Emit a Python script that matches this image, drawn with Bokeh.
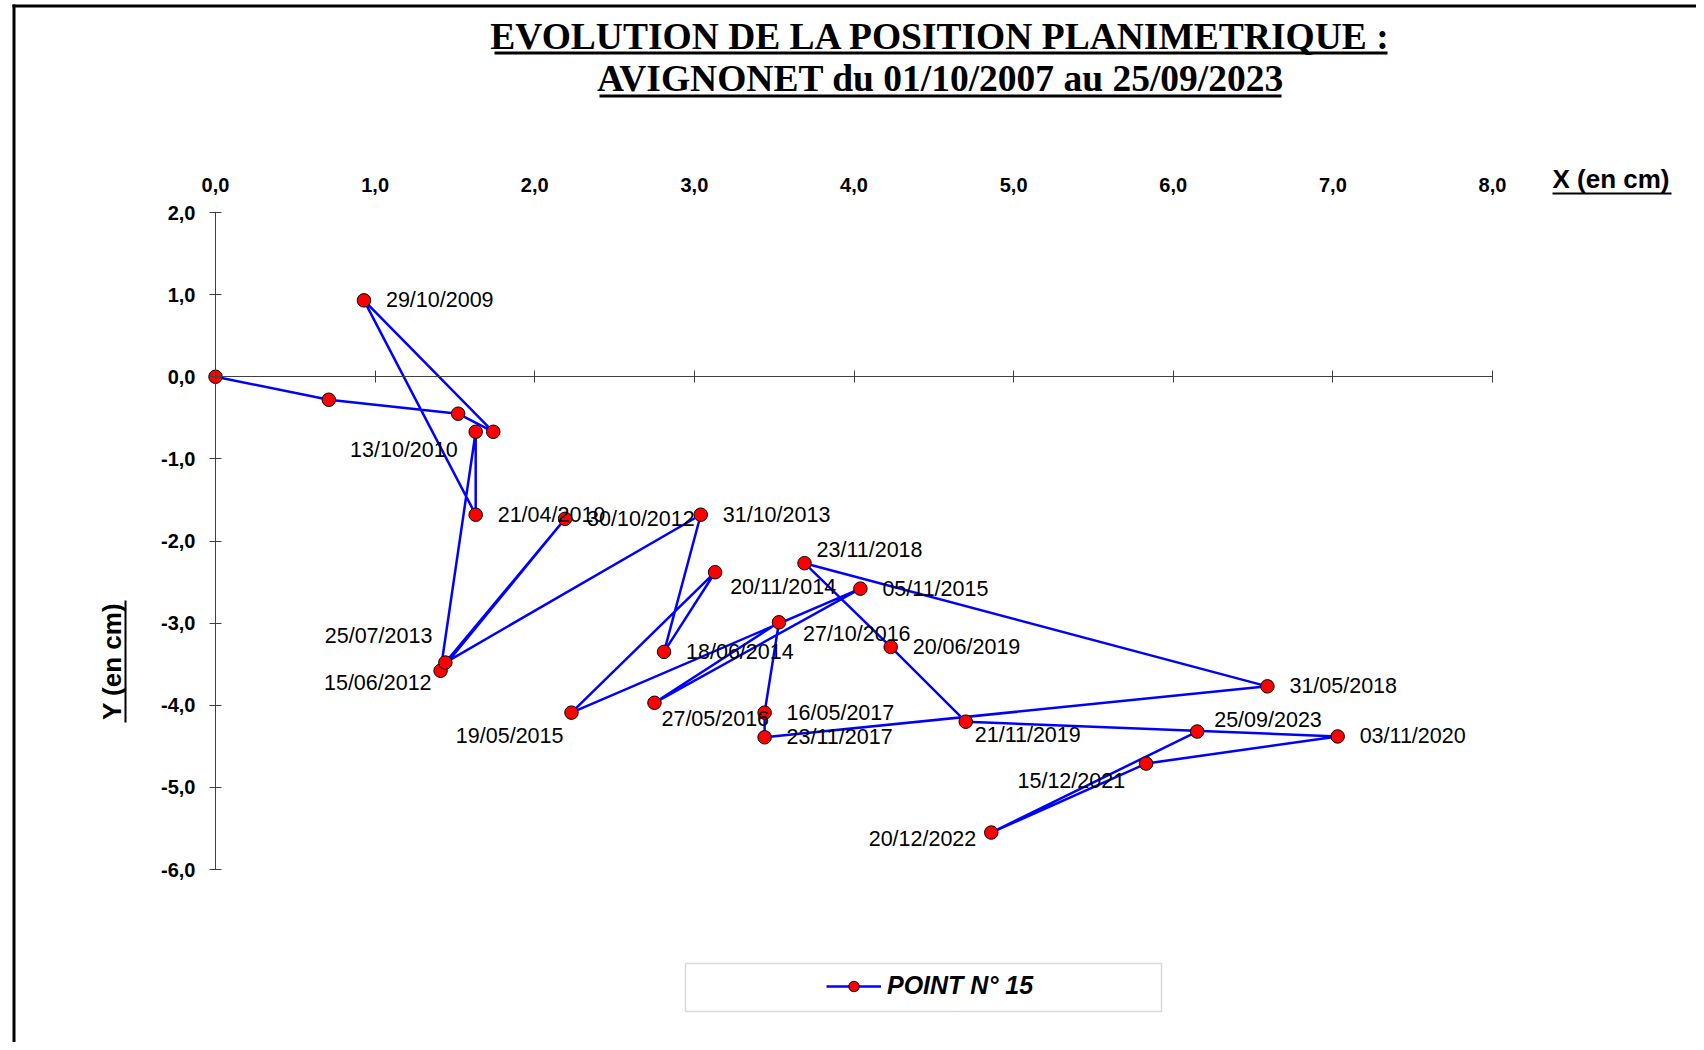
import math
from bokeh.plotting import figure
from bokeh.models import (ColumnDataSource, Range1d, LinearAxis, FixedTicker,
                          CustomJSTickFormatter, Label, BoxAnnotation, Legend, LegendItem)
from bokeh.core.properties import value
from bokeh.embed import file_html
from bokeh.resources import INLINE

# ---------------- data ----------------
dates = ["01/10/2007", "", "", "", "29/10/2009", "21/04/2010", "13/10/2010",
         "15/06/2012", "30/10/2012", "25/07/2013", "31/10/2013", "18/06/2014",
         "20/11/2014", "19/05/2015", "05/11/2015", "27/05/2016", "27/10/2016",
         "16/05/2017", "23/11/2017", "31/05/2018", "23/11/2018", "20/06/2019",
         "21/11/2019", "03/11/2020", "15/12/2021", "20/12/2022", "25/09/2023"]
x_cm = [0.00, 0.71, 1.52, 1.74, 0.93, 1.63, 1.63,
        1.41, 2.19, 1.44, 3.04, 2.81,
        3.13, 2.23, 4.04, 2.75, 3.53,
        3.44, 3.44, 6.59, 3.69, 4.23,
        4.70, 7.03, 5.83, 4.86, 6.15]
y_cm = [0.00, -0.28, -0.45, -0.67, 0.93, -1.68, -0.67,
        -3.58, -1.73, -3.48, -1.68, -3.35,
        -2.38, -4.09, -2.58, -3.97, -2.99,
        -4.09, -4.39, -3.77, -2.27, -3.29,
        -4.20, -4.38, -4.71, -5.55, -4.32]
shown = [False, False, False, False] + [True] * 23
x_ticks = [0, 1, 2, 3, 4, 5, 6, 7, 8]
y_ticks = [-6, -5, -4, -3, -2, -1, 0, 1, 2]
series_name = "POINT N° 15"
title_1 = "EVOLUTION DE LA POSITION PLANIMETRIQUE :"
title_2 = "AVIGNONET du 01/10/2007 au 25/09/2023"
x_name = "X (en cm)"
y_name = "Y (en cm)"

# ---------------- label styling (screen-pixel offsets) ----------------
lab_align = ["left"] * 27
lab_dx = [22] * 27
lab_dy = [0] * 27
custom = {
    6: ("right", -18, 18), 7: ("right", -9, 12), 9: ("right", -13, -27),
    12: ("left", 15, 15), 13: ("right", -8, 23), 15: ("left", 7, 16),
    16: ("left", 24, 12), 20: ("left", 12, -13), 22: ("left", 9, 13),
    24: ("right", -21, 17), 25: ("right", -15, 6), 26: ("left", 17, -12),
}
for i, (a, dx, dy) in custom.items():
    lab_align[i], lab_dx[i], lab_dy[i] = a, dx, dy

# ---------------- layout (page pixels; the frame fills the whole canvas) ----------------
W, H = 1696, 1042
PAGE_X0, PAGE_X8 = 215, 1492      # page x of x=0 and x=8
PAGE_Y2, PAGE_YM6 = 212, 869      # page y of y=2 and y=-6
ppx = (PAGE_X8 - PAGE_X0) / 8.0
ppy = (PAGE_YM6 - PAGE_Y2) / 8.0
x_rng = Range1d(-PAGE_X0 / ppx, (W - PAGE_X0) / ppx)
y_rng = Range1d(2 - (H - PAGE_Y2) / ppy, 2 + PAGE_Y2 / ppy)

def fx(px):
    return px

def fy(py):
    return H - py

p = figure(width=W, height=H, x_range=x_rng, y_range=y_rng,
           output_backend="svg", toolbar_location=None,
           x_axis_type=None, y_axis_type=None,
           min_border=0, min_border_left=0, min_border_right=0,
           min_border_top=0, min_border_bottom=0)
p.outline_line_color = None
p.background_fill_color = "white"
p.border_fill_color = "white"

fmt = CustomJSTickFormatter(code="return tick.toFixed(1).replace('.', ',');")
AX_COL = "#404040"
TICK_FONT = dict(major_label_text_font="Liberation Sans", major_label_text_font_style="bold",
                 major_label_text_font_size="20px", major_label_text_color="black")

top_axis = LinearAxis(fixed_location=2, ticker=FixedTicker(ticks=x_ticks), formatter=fmt,
                      bounds=(0, 8), axis_line_color=None, major_tick_line_color=None,
                      minor_tick_line_color=None, major_label_standoff=15, **TICK_FONT)
p.add_layout(top_axis, "above")

y_axis = LinearAxis(fixed_location=0, ticker=FixedTicker(ticks=y_ticks), formatter=fmt,
                    bounds=(-6, 2), axis_line_color=AX_COL, major_tick_line_color=AX_COL,
                    major_tick_in=6, major_tick_out=6, minor_tick_line_color=None,
                    major_label_standoff=14, **TICK_FONT)
p.add_layout(y_axis, "left")

x0_axis = LinearAxis(fixed_location=0, ticker=FixedTicker(ticks=x_ticks), bounds=(0, 8),
                     axis_line_color=AX_COL, major_tick_line_color=AX_COL,
                     major_tick_in=6, major_tick_out=6, minor_tick_line_color=None,
                     major_label_text_color=None, major_label_text_font_size="1px")
p.add_layout(x0_axis, "below")

src = ColumnDataSource(dict(x=x_cm, y=y_cm,
                            label=[d if s else "" for d, s in zip(dates, shown)],
                            align=lab_align, dx=lab_dx, dy=lab_dy))

line_r = p.line("x", "y", source=src, line_color="#0000FF", line_width=2.5)
pts_r = p.scatter("x", "y", source=src, size=13.5, marker="circle",
                  fill_color="#FF0000", line_color="black", line_width=1)
p.text("x", "y", text="label", source=src, x_offset="dx", y_offset="dy",
       text_align="align", text_baseline="middle",
       text_font=value("Liberation Sans"), text_font_size="21.5px", text_color="black")

# ---------------- titles & axis names ----------------
def lab(px, py, text, **kw):
    p.add_layout(Label(x=fx(px), y=fy(py), x_units="screen", y_units="screen",
                       text=text, text_baseline="middle", text_color="black", **kw))

def box(l, r, t, b, **kw):
    p.add_layout(BoxAnnotation(left=fx(l), right=fx(r), top=fy(t), bottom=fy(b),
                               left_units="screen", right_units="screen",
                               top_units="screen", bottom_units="screen", **kw))

lab(940, 36, title_1, text_align="center",
    text_font="Liberation Serif", text_font_style="bold", text_font_size="37.5px")
lab(940, 78, title_2, text_align="center",
    text_font="Liberation Serif", text_font_style="bold", text_font_size="37.5px")
box(494, 1387, 51, 54, fill_color="black", fill_alpha=1, line_color=None)
box(599, 1281, 94, 97, fill_color="black", fill_alpha=1, line_color=None)

lab(1552, 178, x_name, text_align="left",
    text_font="Liberation Sans", text_font_style="bold", text_font_size="26px")
box(1552, 1671, 192, 194, fill_color="black", fill_alpha=1, line_color=None)

lab(111, 661, y_name, angle=math.pi / 2, text_align="center",
    text_font="Liberation Sans", text_font_style="bold", text_font_size="26px")
box(124, 126, 600, 722, fill_color="black", fill_alpha=1, line_color=None)

# page frame lines (top and left)
box(12, W, 4, 7, fill_color="black", fill_alpha=1, line_color=None)
box(12, 15, 4, H, fill_color="black", fill_alpha=1, line_color=None)

# legend frame
box(685, 1161, 963, 1011, fill_color=None, fill_alpha=0, line_color="#808080", line_width=1.5)

legend = Legend(items=[LegendItem(label=series_name, renderers=[line_r, pts_r])],
                location=(fx(826), fy(1000)), border_line_color=None,
                background_fill_alpha=0, padding=0, margin=0, spacing=0,
                glyph_width=55, glyph_height=26, label_height=26, label_standoff=6,
                label_text_font="Liberation Sans", label_text_font_style="bold italic",
                label_text_font_size="25px", label_text_color="black")
p.add_layout(legend)

open("out.html", "w").write(file_html(p, INLINE))
